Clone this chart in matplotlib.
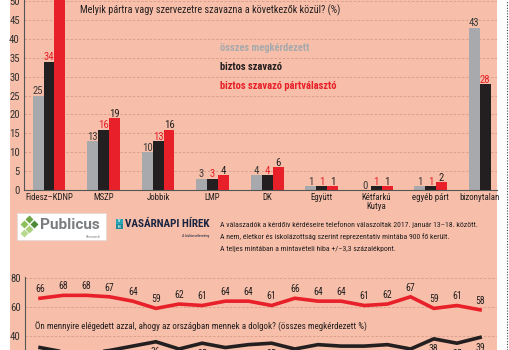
import numpy as np
import matplotlib
matplotlib.use("Agg")
import matplotlib.pyplot as plt
from matplotlib.patches import Rectangle
from matplotlib.lines import Line2D

# ---------------- data ----------------
categories = ["Fidesz–KDNP", "MSZP", "Jobbik", "LMP", "DK", "Együtt",
              "Kétfarkú\nKutya", "egyéb párt", "bizonytalan"]
osszes = [25, 13, 10, 3, 4, 1, 0, 1, 43]
biztos = [34, 16, 13, 3, 4, 1, 1, 1, 28]
partvalaszto = [51, 19, 16, 4, 6, 1, 1, 2, np.nan]
yticks_top = [0, 5, 10, 15, 20, 25, 30, 35, 40, 45, 50]

elegedetlen = [66, 68, 68, 67, 64, 59, 62, 61, 64, 64, 61, 66, 64, 64, 61, 62, 67, 59, 61, 58]
elegedett = [32, 29, 28, 30, 33, 36, 31, 35, 32, 34, 35, 31, 34, 33, 33, 34, 31, 38, 35, 39]
yticks_bottom = [40, 60, 80]

title_top = "Melyik pártra vagy szervezetre szavazna a következők közül? (%)"
title_bottom = "Ön mennyire elégedett azzal, ahogy az országban mennek a dolgok? (összes megkérdezett %)"
legend_labels = ["összes megkérdezett", "biztos szavazó", "biztos szavazó pártválasztó"]
notes = ["A válaszadók a kérdőív kérdéseire telefonon válaszoltak 2017. január 13–18. között.",
         "A nem, életkor és iskolázottság szerint reprezentatív mintába 900 fő került.",
         "A teljes mintában a mintavételi hiba +/–3,3 százalékpont."]

# ---------------- style ----------------
W, H = 510, 350
SALMON = "#F7BFA9"
GRAY = "#A7A9AC"
BLACK = "#231F20"
RED = "#E8202A"
GRID = "#D69C88"
FONT = ["Roboto Condensed", "Liberation Sans Narrow", "Roboto", "DejaVu Sans"]
plt.rcParams["font.family"] = FONT

fig = plt.figure(figsize=(W / 100, H / 100), dpi=100, facecolor="white")
renderer = fig.canvas.get_renderer()


def fitted_size(s, target_px, base=10.0, **kw):
    t = fig.text(0, 0, s, fontsize=base, **kw)
    wpx = t.get_window_extent(renderer=renderer).width
    t.remove()
    return base * target_px / wpx


def fx(x):
    return x / W


def fy(y):
    return 1 - y / H


# text sizes fitted to the reference widths
fs_title = fitted_size(title_top, 255)
fs_legend = fitted_size(legend_labels[2], 117, fontweight="bold")
fs_qbottom = fitted_size(title_bottom, 330)
fs_notes = fitted_size(notes[0], 255)
fs_vh = fitted_size("VASÁRNAPI HÍREK", 84, fontweight="bold")
fs_pub = fitted_size("Publicus", 60, fontweight="bold", family=["Roboto", "DejaVu Sans"])
fs_xt = min(fitted_size("Fidesz–KDNP", 50), fitted_size("bizonytalan", 40))
fs_num = fitted_size("25", 10.5)
fs_line = fitted_size("66", 9.5)

# overlay in pixel coordinates for background & decorations
deco = fig.add_axes([0, 0, 1, 1], zorder=0)
deco.set_xlim(0, W)
deco.set_ylim(H, 0)
deco.axis("off")
deco.add_patch(Rectangle((10, 0), 487, H, facecolor=SALMON, edgecolor="none"))

# ---------------- top bar chart ----------------
ax = fig.add_axes([fx(24), fy(190), fx(497) - fx(24), fy(0) - fy(190)], zorder=2)
ax.patch.set_alpha(0)
n = len(categories)
x = np.arange(n)
w = 0.2018
ax.set_xlim(-0.4587, 8.22)
ax.set_ylim(0, 50.3)
for yv in yticks_top[1:]:
    ax.axhline(yv, color=GRID, lw=0.6, ls=(0, (3, 2)), zorder=0)

ax.bar(x - w, osszes, w, color=GRAY, zorder=2)
ax.bar(x, biztos, w, color=BLACK, zorder=2)
red_arr = np.array(partvalaszto, dtype=float)
red_mask = ~np.isnan(red_arr)
ax.bar(x[red_mask] + w, red_arr[red_mask], w, color=RED, zorder=2)

lab_kw = dict(ha="center", va="bottom", fontsize=fs_num, zorder=3,
              textcoords="offset points", xytext=(0, -0.5))
for xi, v in zip(x - w, osszes):
    ax.annotate(str(v), (xi, v), color="#3a3a3a", **lab_kw)
for xi, v in zip(x, biztos):
    ax.annotate(str(v), (xi, v), color=RED, **lab_kw)
for xi, v in zip(x[red_mask] + w, red_arr[red_mask]):
    if v < 50:
        ax.annotate(str(int(v)), (xi, v), color=BLACK, **lab_kw)

tick_pos = []
for i in range(n):
    pos = [x[i] - w, x[i]] + ([x[i] + w] if red_mask[i] else [])
    tick_pos.append(np.mean(pos))
ax.set_xticks(tick_pos)
ax.set_xticklabels(categories, fontsize=fs_xt, color=BLACK, linespacing=0.9)
ax.tick_params(axis="x", length=0, pad=2.5)
ax.set_yticks(yticks_top)
ax.set_yticklabels([str(v) for v in yticks_top], fontsize=fs_num, color="#333333")
ax.tick_params(axis="y", length=0, pad=3)
for s in ["top", "right"]:
    ax.spines[s].set_visible(False)
for s in ["left", "bottom"]:
    ax.spines[s].set_color("#555555")
    ax.spines[s].set_linewidth(0.8)

fig.text(fx(80), fy(10), title_top, fontsize=fs_title, color=BLACK, va="center", ha="left", zorder=5)
for lbl, col, yy in zip(legend_labels, [GRAY, BLACK, RED], [48, 67, 86]):
    fig.text(fx(220), fy(yy), lbl, fontsize=fs_legend, fontweight="bold",
             color=col, va="center", zorder=5)

# ---------------- logos / notes ----------------
deco.add_patch(Rectangle((17, 213), 89, 27, facecolor="white", edgecolor="#dddddd", lw=0.5))
for (cx, cy, c) in [(24, 224, "#8DBF5A"), (29, 219, "#6FA544"), (29, 229, "#A9CF7A"),
                    (34, 224, "#4E8A3A"), (24, 233, "#B8D890")]:
    deco.plot(cx, cy, marker="D", ms=4.5, color=c, mec="none")
deco.text(40, 225, "Publicus", fontsize=fs_pub, fontweight="bold", color="#7A7D80",
          va="center", ha="left", family=["Roboto", "DejaVu Sans"])
deco.text(101, 236.5, "Research", fontsize=3, color="#888888", va="center", ha="right")

deco.add_patch(Rectangle((116, 219), 7, 5, facecolor="#2AA6B5", edgecolor="none"))
deco.add_patch(Rectangle((116, 224), 7, 5, facecolor="#1E8C99", edgecolor="none"))
deco.text(119.5, 221.5, "V", fontsize=3, color="white", ha="center", va="center", fontweight="bold")
deco.text(119.5, 226.5, "H", fontsize=3, color="white", ha="center", va="center", fontweight="bold")
deco.text(125, 224, "VASÁRNAPI HÍREK", fontsize=fs_vh, fontweight="bold", color="#1B2440",
          va="center", ha="left")
deco.text(209, 236, "A különvélemény", fontsize=3, color="#1B2440", va="center", ha="right")

for i, t in enumerate(notes):
    deco.text(220, 225 + 12 * i, t, fontsize=fs_notes, color=BLACK, va="center", ha="left")

# ---------------- bottom line chart ----------------
top_px, px_per_unit = 276.5, 1.45
y_hi, y_lo = 81, 20
bottom_px = top_px + (y_hi - y_lo) * px_per_unit
ax2 = fig.add_axes([fx(25), fy(bottom_px), fx(497) - fx(25), fy(top_px) - fy(bottom_px)], zorder=2)
ax2.patch.set_alpha(0)
t = np.arange(len(elegedetlen))
ax2.set_xlim(-0.65, 19.73)
ax2.set_ylim(y_lo, y_hi)
for yv in yticks_bottom:
    ax2.axhline(yv, color=GRID, lw=0.6, ls=(0, (3, 2)), zorder=0)
ax2.plot(t, elegedetlen, color=RED, lw=2.6, zorder=3, solid_joinstyle="miter")
ax2.plot(t, elegedett, color=BLACK, lw=2.6, zorder=3, solid_joinstyle="miter")
for ti, v in zip(t, elegedetlen):
    ax2.annotate(str(v), (ti, v), xytext=(0, 3), textcoords="offset points",
                 ha="center", va="bottom", fontsize=fs_line, color=BLACK)
for ti, v in zip(t, elegedett):
    ax2.annotate(str(v), (ti, v), xytext=(0, -4), textcoords="offset points",
                 ha="center", va="top", fontsize=fs_line, color=BLACK)
ax2.set_yticks(yticks_bottom)
ax2.set_yticklabels([str(v) for v in yticks_bottom], fontsize=fs_num, color="#333333")
ax2.tick_params(axis="y", length=0, pad=3)
ax2.set_xticks([])
for s in ["top", "right", "bottom"]:
    ax2.spines[s].set_visible(False)
ax2.spines["left"].set_color("#555555")
ax2.spines["left"].set_linewidth(0.8)

fig.text(fx(35), fy(327), title_bottom, fontsize=fs_qbottom, color=BLACK,
         va="center", ha="left", zorder=5)

# dotted separator on the right
fig.add_artist(Line2D([fx(507), fx(507)], [0, 1], ls=(0, (1, 1.5)), color="#444444", lw=0.8))

fig.savefig("out.png", dpi=100, facecolor="white")
